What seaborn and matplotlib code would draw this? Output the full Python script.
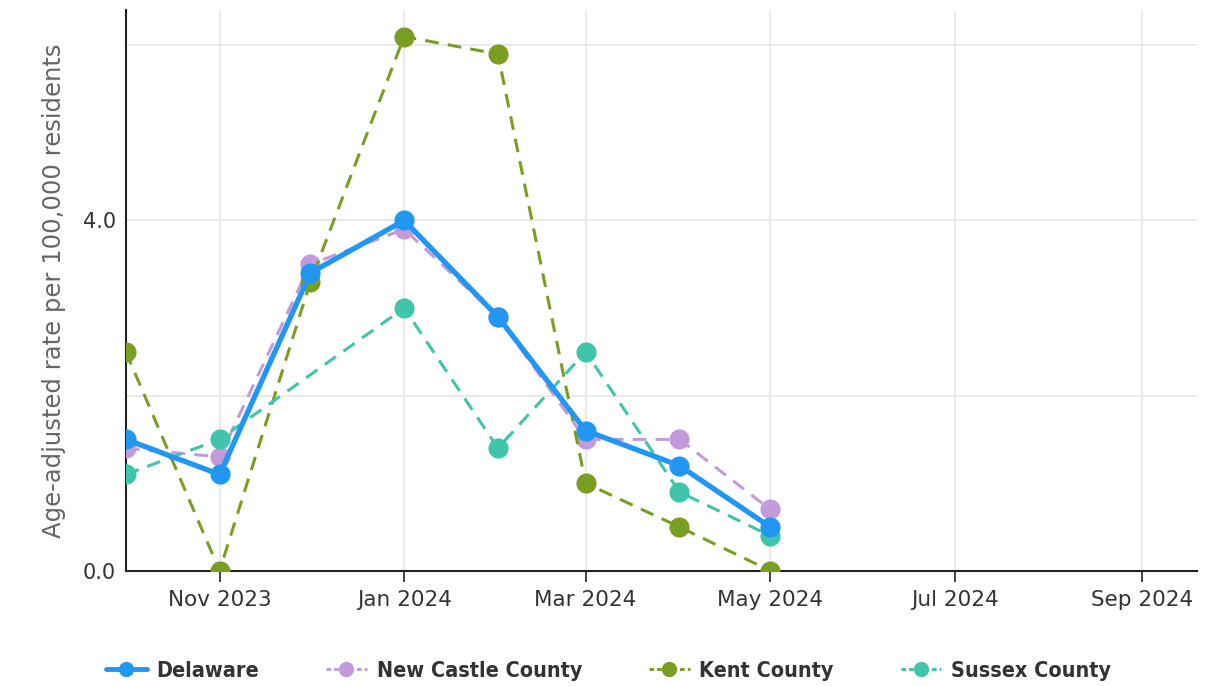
import numpy as np
import pandas as pd
import matplotlib
matplotlib.use('Agg')
from matplotlib import pyplot as plt
import matplotlib.dates as mdates
import seaborn as sns

# Data
months = pd.to_datetime(['2023-10-01', '2023-11-01', '2023-12-01', '2024-01-01',
                         '2024-02-01', '2024-03-01', '2024-04-01', '2024-05-01'])
delaware = [1.5, 1.1, 3.4, 4.0, 2.9, 1.6, 1.2, 0.5]
new_castle = [1.4, 1.3, 3.5, 3.9, 2.9, 1.5, 1.5, 0.7]
kent = [2.5, 0.0, 3.3, 6.1, 5.9, 1.0, 0.5, 0.0]
sussex = [1.1, 1.5, np.nan, 3.0, 1.4, 2.5, 0.9, 0.4]

series_names = ['Delaware', 'New Castle County', 'Kent County', 'Sussex County']
series_vals = [delaware, new_castle, kent, sussex]
colors = ['#2196F3', '#C39BDB', '#7A9E22', '#40C4AA']

df = pd.DataFrame({'month': np.tile(months, 4),
                   'rate': np.concatenate(series_vals),
                   'area': np.repeat(series_names, len(months))}).dropna()

sns.set_style('white')
fig = plt.figure(figsize=(12.1, 6.86), dpi=100)
ax = fig.add_axes([0.104, 0.168, 0.885, 0.817])

# draw the dashed series first, Delaware on top
order = [1, 2, 3, 0]
for i in order:
    name = series_names[i]
    sub = df[df['area'] == name]
    solid = (i == 0)
    sns.lineplot(data=sub, x='month', y='rate', ax=ax, color=colors[i],
                 marker='o', markersize=14.5, markeredgewidth=0,
                 linewidth=3.8 if solid else 2.2,
                 linestyle='-' if solid else (0, (4.5, 3)),
                 label=name, zorder=5 if solid else 3, legend=False)

ax.set_xlim(pd.Timestamp('2023-10-01'), pd.Timestamp('2024-09-19'))
ax.set_ylim(0, 6.4)
ax.set_yticks([0, 2, 4, 6])
ax.set_yticklabels(['0.0', '', '4.0', ''])
ax.xaxis.set_major_locator(mdates.MonthLocator(bymonth=[1, 3, 5, 7, 9, 11]))
ax.xaxis.set_major_formatter(mdates.DateFormatter('%b %Y'))

ax.grid(True, color='#e6e6e6', linewidth=1.2)
ax.set_axisbelow(True)
for s in ['top', 'right']:
    ax.spines[s].set_visible(False)
for s in ['left', 'bottom']:
    ax.spines[s].set_color('#222222')
    ax.spines[s].set_linewidth(1.5)

ax.tick_params(axis='x', length=8, width=1.2, color='#222222', labelsize=15.5,
               labelcolor='#333333', pad=6, bottom=True)
ax.tick_params(axis='y', length=0, labelsize=15, labelcolor='#333333', pad=7)
ax.set_xlabel('')
ax.set_ylabel('Age-adjusted rate per 100,000 residents', fontsize=17.5,
              color='#666666', labelpad=12)

handles = []
for i in range(4):
    h, = ax.plot([], [], color=colors[i], marker='o', markersize=11,
                 markeredgewidth=0, linewidth=3.5 if i == 0 else 2.2,
                 linestyle='-' if i == 0 else (0, (1.5, 1)))
    handles.append(h)
fig.legend(handles, series_names, loc='center', bbox_to_anchor=(0.503, 0.022),
           ncol=4, frameon=False, handlelength=1.9,
           columnspacing=3.1, handletextpad=0.45, labelcolor='#333333',
           prop={'family': 'DejaVu Sans', 'stretch': 'condensed',
                 'weight': 'bold', 'size': 15.5})

fig.savefig('out.png', dpi=100)
